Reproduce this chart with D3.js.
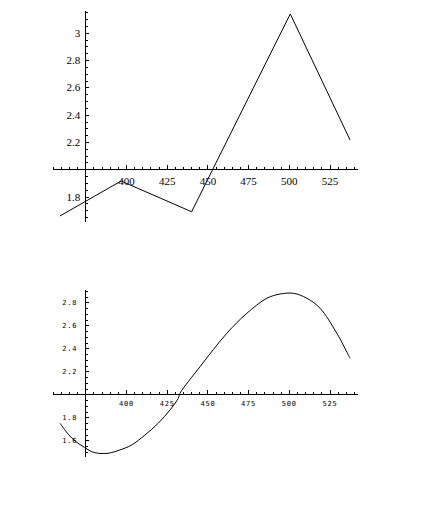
<!DOCTYPE html>
<html>
<head>
<meta charset="utf-8">
<script src="https://cdn.jsdelivr.net/npm/d3@7"></script>
<style>
  body { margin: 0; background: #fff; }
  svg { display: block; }
</style>
</head>
<body>
<svg></svg>
<script>
let svgWidth = 425;
let svgHeight = 516;

// top plot: straight segments between the points
let topX = [359.5, 397, 440.3, 500.9, 537.6];
let topY = [1.658, 1.914, 1.689, 3.138, 2.215];

// bottom plot: smooth curve
let bottomX = [359.5, 364.6, 369.2, 374.4, 378.9, 383.0, 389.1, 396.3, 403.5, 411.7, 419.8, 427.0,
               432.1, 433.2, 445.5, 461.9, 474.2, 486.5, 494.7, 502.9, 511.1, 519.2, 529.5, 537.6];
let bottomY = [1.748, 1.652, 1.588, 1.539, 1.501, 1.487, 1.487, 1.516, 1.559, 1.646, 1.748, 1.863,
               1.965, 2.009, 2.240, 2.530, 2.704, 2.835, 2.872, 2.878, 2.835, 2.748, 2.530, 2.313];

// tick labels
let xMajor = [400, 425, 450, 475, 500, 525];
let topYMajor = [1.8, 2.2, 2.4, 2.6, 2.8, 3];
let bottomYMajor = [1.6, 1.8, 2.2, 2.4, 2.6, 2.8];

var svg = d3.select("svg")
    .attr("width", svgWidth)
    .attr("height", svgHeight);

svg.append("rect")
    .attr("width", svgWidth)
    .attr("height", svgHeight)
    .attr("fill", "#fff");

let xScale = d3.scaleLinear()
    .domain([355, 542])
    .range([52.7, 357.2]);

let xMinor = d3.range(355, 541, 5);

function drawPanel(opts) {
    let yScale = d3.scaleLinear()
        .domain(opts.yDomain)
        .range(opts.yRange);
    let yMinor = d3.range(Math.ceil(opts.yDomain[0] * 20) / 20, opts.yDomain[1], 0.05);
    let x0 = xScale(375);
    let y0 = yScale(2);
    let g = svg.append("g");

    // x axis: minor ticks, then major ticks with labels
    g.append("g")
        .attr("transform", `translate(0, ${y0})`)
        .call(d3.axisBottom(xScale).tickValues(xMinor).tickSize(-2.5).tickSizeOuter(0).tickFormat(""));
    g.append("g")
        .attr("class", "lab")
        .attr("transform", `translate(0, ${y0})`)
        .call(d3.axisBottom(xScale).tickValues(xMajor).tickSize(-4).tickSizeOuter(0)
            .tickPadding(opts.xPad).tickFormat(d => d));

    // y axis
    g.append("g")
        .attr("transform", `translate(${x0}, 0)`)
        .call(d3.axisLeft(yScale).tickValues(yMinor).tickSize(-2.5).tickSizeOuter(0).tickFormat(""));
    g.append("g")
        .attr("class", "lab")
        .attr("transform", `translate(${x0}, 0)`)
        .call(d3.axisLeft(yScale).tickValues(opts.yMajor).tickSize(-4).tickSizeOuter(0)
            .tickPadding(opts.yPad).tickFormat(d => d));

    g.selectAll("path.domain, .tick line")
        .attr("stroke", "#000")
        .attr("shape-rendering", "crispEdges");

    g.selectAll(".lab text")
        .attr("fill", "#000")
        .attr("font-family", opts.font)
        .attr("font-size", opts.fontSize)
        .attr("letter-spacing", opts.spacing);

    // the data line
    let pts = opts.xs.map((x, i) => [x, opts.ys[i]]);
    g.append("path")
        .datum(pts)
        .attr("fill", "none")
        .attr("stroke", "#000")
        .attr("stroke-width", 1)
        .attr("d", d3.line()
            .x(d => xScale(d[0]))
            .y(d => yScale(d[1]))
            .curve(opts.curve));
}

// Top plot
drawPanel({
    xs: topX, ys: topY,
    yDomain: [1.616, 3.167], yRange: [221.7, 10],
    yMajor: topYMajor,
    curve: d3.curveLinear,
    font: "'Liberation Serif', 'DejaVu Serif', serif",
    fontSize: "11px", spacing: 0,
    xPad: 8, yPad: 5
});

// Bottom plot
drawPanel({
    xs: bottomX, ys: bottomY,
    yDomain: [1.457, 2.913], yRange: [456.7, 289.3],
    yMajor: bottomYMajor,
    curve: d3.curveCatmullRom,
    font: "'DejaVu Sans Mono', 'Liberation Mono', monospace",
    fontSize: "7px", spacing: "0.8px",
    xPad: 6.5, yPad: 8
});
</script>
</body>
</html>
